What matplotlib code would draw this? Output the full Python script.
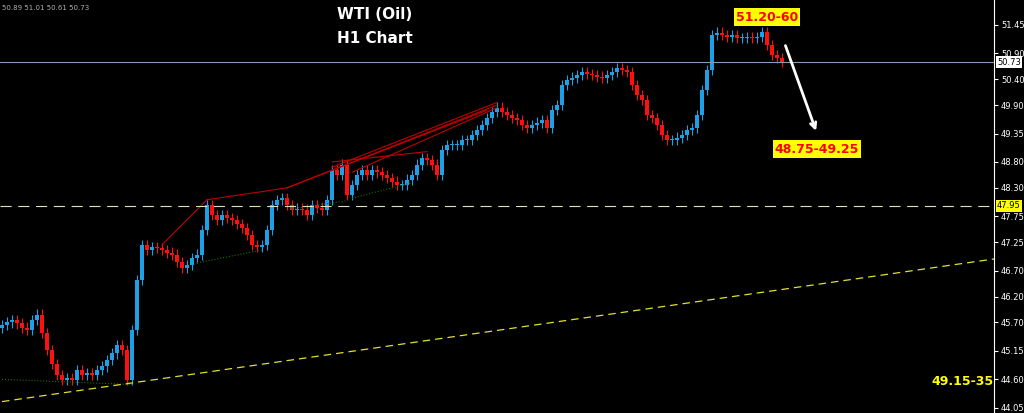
import numpy as np
import matplotlib.pyplot as plt

# hourly closes, one candle every bar
closes = [45.65, 45.70, 45.75, 45.68, 45.60, 45.56, 45.75, 45.85, 45.50, 45.17,
          44.90, 44.69, 44.59, 44.62, 44.59, 44.78, 44.69, 44.72, 44.69, 44.78,
          44.85, 44.98, 45.10, 45.27, 45.17, 44.59, 45.56, 46.52, 47.20, 47.10,
          47.16, 47.14, 47.10, 47.05, 47.01, 46.87, 46.76, 46.81, 46.95, 47.01,
          47.49, 47.97, 47.78, 47.68, 47.78, 47.72, 47.68, 47.60, 47.53, 47.39,
          47.20, 47.16, 47.20, 47.49, 47.97, 48.07, 48.11, 47.97, 47.88, 47.90,
          47.88, 47.78, 47.97, 47.92, 47.88, 48.07, 48.65, 48.55, 48.75, 48.17,
          48.36, 48.55, 48.65, 48.55, 48.65, 48.60, 48.55, 48.49, 48.42, 48.36,
          48.36, 48.46, 48.55, 48.75, 48.88, 48.84, 48.75, 48.55, 49.03, 49.13,
          49.13, 49.13, 49.23, 49.23, 49.32, 49.42, 49.52, 49.65, 49.77, 49.85,
          49.77, 49.71, 49.65, 49.61, 49.52, 49.46, 49.52, 49.56, 49.61, 49.46,
          49.81, 49.90, 50.29, 50.39, 50.43, 50.48, 50.54, 50.50, 50.48, 50.45,
          50.43, 50.48, 50.54, 50.62, 50.58, 50.54, 50.29, 50.10, 50.00, 49.71,
          49.65, 49.52, 49.32, 49.23, 49.23, 49.27, 49.32, 49.42, 49.46, 49.71,
          50.19, 50.58, 51.26, 51.30, 51.26, 51.22, 51.26, 51.20, 51.20, 51.22,
          51.20, 51.22, 51.31, 51.06, 50.87, 50.81, 50.73]
opens = [45.60] + closes[:-1]
wick = 0.1

price_ticks = [51.45, 50.90, 50.40, 49.90, 49.35, 48.80, 48.30, 47.75, 47.25,
               46.70, 46.20, 45.70, 45.15, 44.60, 44.05]
last_price = 50.73
level_price = 47.95
trend_x = [0, 203]
trend_y = [44.17, 46.99]

# red channel / fan lines and green dotted supports: (x0, y0, x1, y1) in bar index / price
red_lines = [(32, 47.2, 41, 48.07), (41, 48.07, 57, 48.3), (57, 48.3, 99, 49.9),
             (57, 48.3, 97, 49.8), (66, 48.7, 99, 49.95), (66, 48.8, 85, 49.0),
             (70, 48.6, 99, 49.85)]
green_lines = [(39, 46.85, 52, 47.1), (58, 47.9, 69, 48.05), (70, 48.1, 82, 48.4),
               (0, 44.6, 26, 44.5)]

fig = plt.figure(figsize=(10.24, 4.13), dpi=100, facecolor='black')
ax = fig.add_axes([0, 0, 994 / 1024, 1], facecolor='black')

up_col, dn_col = '#1ea0e6', '#ff1010'
for i, (o, c) in enumerate(zip(opens, closes)):
    col = up_col if c >= o else dn_col
    ax.vlines(i, min(o, c) - wick, max(o, c) + wick, color=col, lw=0.8)
    ax.bar(i, max(abs(c - o), 0.015), bottom=min(o, c), width=0.7, color=col)

for x0, y0, x1, y1 in red_lines:
    ax.plot([x0, x1], [y0, y1], color='#c00000', lw=0.8)
for x0, y0, x1, y1 in green_lines:
    ax.plot([x0, x1], [y0, y1], color='#107010', lw=0.8, ls=':')

ax.plot(trend_x, trend_y, color='#e0e030', lw=0.9, ls=(0, (6, 4)))
ax.axhline(last_price, color='#8a9ab8', lw=0.8)
ax.axhline(level_price, color='#e0e0c0', lw=0.8, ls=(0, (10, 6)))

ax.set_xlim(-0.4, 198.4)
ax.set_ylim(43.95, 51.93)
ax.set_xticks([])
ax.yaxis.tick_right()
ax.set_yticks(price_ticks)
ax.set_yticklabels([f'{p:.2f}' for p in price_ticks], fontsize=6, color='white')
ax.tick_params(axis='y', colors='white', length=3, pad=2, labelsize=6)
for s in ['top', 'left', 'bottom']:
    ax.spines[s].set_visible(False)
ax.spines['right'].set_color('white')

ax.text(1.003, last_price, f'{last_price:.2f}', transform=ax.get_yaxis_transform(),
        fontsize=6, va='center', color='black', bbox=dict(fc='white', ec='none', pad=1))
ax.text(1.003, level_price, f'{level_price:.2f}', transform=ax.get_yaxis_transform(),
        fontsize=6, va='center', color='black', bbox=dict(fc='#ffff00', ec='none', pad=1))

fig.text(0.366, 0.955, 'WTI (Oil)', color='white', fontsize=11, fontweight='bold', ha='center')
fig.text(0.366, 0.895, 'H1 Chart', color='white', fontsize=11, fontweight='bold', ha='center')
fig.text(0.002, 0.988, '50.89 51.01 50.61 50.73', color='#b0b0b0', fontsize=5, va='top')

ax.text(153, 51.60, '51.20-60', color='red', fontsize=9, fontweight='bold', ha='center',
        va='center', bbox=dict(fc='#ffff00', ec='none', pad=1.5))
ax.text(163, 49.05, '48.75-49.25', color='red', fontsize=9, fontweight='bold', ha='center',
        va='center', bbox=dict(fc='#ffff00', ec='none', pad=1.5))
ax.text(192, 44.55, '49.15-35', color='#ffff00', fontsize=9, fontweight='bold', ha='center', va='center')
ax.annotate('', xy=(163, 49.35), xytext=(156.5, 51.1),
            arrowprops=dict(arrowstyle='->', color='white', lw=2))

fig.savefig('out.png', dpi=100, facecolor='black')
